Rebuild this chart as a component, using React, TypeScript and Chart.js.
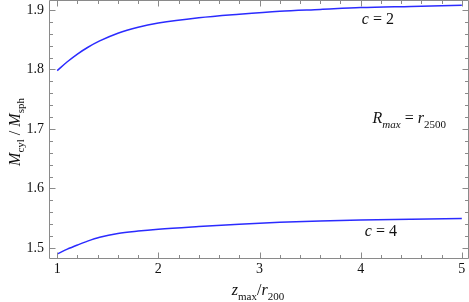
import React, { useEffect, useRef, useState } from "react";
import { Chart, registerables } from "chart.js";

Chart.register(...registerables);

const xValues = [1, 1.1, 1.2, 1.3, 1.42, 1.6, 1.8, 2, 2.4, 2.8, 3.2, 3.6, 4, 4.5, 5];
const seriesC2 = [1.798, 1.813, 1.826, 1.837, 1.848, 1.861, 1.871, 1.878, 1.887, 1.893, 1.898, 1.901, 1.904, 1.906, 1.908];
const seriesC4 = [1.490, 1.498, 1.505, 1.5115, 1.518, 1.5245, 1.5285, 1.5315, 1.536, 1.540, 1.5432, 1.5455, 1.5472, 1.5485, 1.5494];
const xTickLabels = [1, 2, 3, 4, 5];
const yTickLabels = [1.5, 1.6, 1.7, 1.8, 1.9];
const xMinorStep = 0.2;
const yMinorStep = 0.02;

const SERIF = '"Liberation Serif", "Times New Roman", serif';
const BLUE = "#2b2bff";
const FRAME = "#8a8a8a";
const INK = "#111";

const framePlugin = {
  id: "framePlugin",
  afterDraw(chart: any) {
    const { ctx, chartArea } = chart;
    const xs = chart.scales.x;
    const ys = chart.scales.y;
    const { left, right, top, bottom } = chartArea;
    ctx.save();
    ctx.strokeStyle = FRAME;
    ctx.lineWidth = 1;
    ctx.beginPath();
    ctx.rect(left + 0.5, top + 0.5, right - left - 1, bottom - top - 1);
    ctx.stroke();
    const eps = 1e-6;
    ctx.beginPath();
    for (let v = xTickLabels[0]; v <= xs.max + eps; v += xMinorStep) {
      const vv = Math.round(v * 1000) / 1000;
      if (vv < xs.min) continue;
      const major = Math.abs(vv - Math.round(vv)) < eps;
      const len = major ? 6 : 3.5;
      const px = Math.round(xs.getPixelForValue(vv)) + 0.5;
      ctx.moveTo(px, bottom - 0.5);
      ctx.lineTo(px, bottom - 0.5 - len);
      ctx.moveTo(px, top + 0.5);
      ctx.lineTo(px, top + 0.5 + len);
    }
    for (let v = 1.48; v <= ys.max + eps; v += yMinorStep) {
      const vv = Math.round(v * 1000) / 1000;
      if (vv < ys.min) continue;
      const major = Math.abs(vv * 10 - Math.round(vv * 10)) < 1e-4;
      const len = major ? 6 : 3.5;
      const py = Math.round(ys.getPixelForValue(vv)) + 0.5;
      ctx.moveTo(left + 0.5, py);
      ctx.lineTo(left + 0.5 + len, py);
      ctx.moveTo(right - 0.5, py);
      ctx.lineTo(right - 0.5 - len, py);
    }
    ctx.stroke();
    ctx.restore();
  },
};

type Layout = {
  xTicks: { x: number; label: string }[];
  yTicks: { y: number; label: string }[];
  left: number;
  right: number;
  top: number;
  bottom: number;
  c2: { x: number; y: number };
  rmax: { x: number; y: number };
  c4: { x: number; y: number };
};

const ASC = 0.8375;

function Txt(props: { x: number; baseline: number; size: number; align: "center" | "right"; children: any }) {
  const { x, baseline, size, align, children } = props;
  return (
    <div
      style={{
        position: "absolute",
        left: x,
        top: baseline - ASC * size,
        transform: align === "center" ? "translateX(-50%)" : "translateX(-100%)",
        fontFamily: SERIF,
        fontSize: size,
        lineHeight: `${size}px`,
        whiteSpace: "pre",
        color: INK,
        pointerEvents: "none",
      }}
    >
      {children}
    </div>
  );
}

const I = (p: { children: any }) => <span style={{ fontStyle: "italic" }}>{p.children}</span>;
const Sub = (p: { children: any; italic?: boolean }) => (
  <span style={{ fontSize: 11, verticalAlign: "-4.5px", lineHeight: 0, fontStyle: p.italic ? "italic" : "normal" }}>
    {p.children}
  </span>
);

export default function App() {
  const ref = useRef<HTMLCanvasElement | null>(null);
  const [lay, setLay] = useState<Layout | null>(null);
  useEffect(() => {
    document.body.style.margin = "0";
    if (!ref.current) return;
    const chart: any = new Chart(ref.current, {
      type: "line",
      data: {
        datasets: [
          {
            label: "c = 2",
            data: xValues.map((x, i) => ({ x, y: seriesC2[i] })),
            borderColor: BLUE,
            borderWidth: 1.5,
            pointRadius: 0,
            cubicInterpolationMode: "monotone",
            fill: false,
          },
          {
            label: "c = 4",
            data: xValues.map((x, i) => ({ x, y: seriesC4[i] })),
            borderColor: BLUE,
            borderWidth: 1.5,
            pointRadius: 0,
            cubicInterpolationMode: "monotone",
            fill: false,
          },
        ],
      },
      options: {
        animation: false,
        responsive: false,
        maintainAspectRatio: false,
        layout: { padding: 0 },
        plugins: { legend: { display: false }, tooltip: { enabled: false } },
        scales: {
          x: {
            type: "linear",
            min: 0.919,
            max: 5.071,
            grid: { display: false, drawTicks: false },
            border: { display: false },
            afterBuildTicks: (s: any) => {
              s.ticks = xTickLabels.map((v) => ({ value: v }));
            },
            afterFit: (s: any) => {
              s.height = 43;
              s.paddingLeft = 0;
              s.paddingRight = 0;
            },
            ticks: { display: false, autoSkip: false, callback: (v: any) => String(v) },
          },
          y: {
            type: "linear",
            min: 1.4815,
            max: 1.9168,
            grid: { display: false, drawTicks: false },
            border: { display: false },
            afterBuildTicks: (s: any) => {
              s.ticks = yTickLabels.map((v) => ({ value: v }));
            },
            afterFit: (s: any) => {
              s.width = 49;
              s.paddingTop = 0;
              s.paddingBottom = 0;
            },
            ticks: { display: false, autoSkip: false, callback: (v: any) => Number(v).toFixed(1) },
          },
        },
      },
      plugins: [framePlugin],
    } as any);
    const xs = chart.scales.x;
    const ys = chart.scales.y;
    const ca = chart.chartArea;
    setLay({
      xTicks: xs.ticks.map((t: any) => ({ x: xs.getPixelForValue(t.value), label: t.label != null ? String(t.label) : String(t.value) })),
      yTicks: ys.ticks.map((t: any) => ({
        y: ys.getPixelForValue(t.value),
        label: t.label != null ? String(t.label) : Number(t.value).toFixed(1),
      })),
      left: ca.left,
      right: ca.right,
      top: ca.top,
      bottom: ca.bottom,
      c2: { x: xs.getPixelForValue(4.17), y: ys.getPixelForValue(1.875) },
      rmax: { x: xs.getPixelForValue(4.48), y: ys.getPixelForValue(1.71) },
      c4: { x: xs.getPixelForValue(4.2), y: ys.getPixelForValue(1.5197) },
    });
    return () => chart.destroy();
  }, []);
  return (
    <div style={{ width: 469, height: 302, position: "relative", overflow: "hidden" }}>
      <canvas ref={ref} width={469} height={302} style={{ display: "block" }} />
      {lay && (
        <>
          {lay.xTicks.map((t) => (
            <Txt key={"x" + t.label} x={t.x} baseline={lay.bottom + 14.5} size={14} align="center">
              {t.label}
            </Txt>
          ))}
          {lay.yTicks.map((t) => (
            <Txt key={"y" + t.label} x={lay.left - 5} baseline={t.y + 4.5} size={14} align="right">
              {t.label}
            </Txt>
          ))}
          <Txt x={(lay.left + lay.right) / 2 - 1} baseline={295} size={16} align="center">
            <I>z</I>
            <Sub>max</Sub>/<I>r</I>
            <Sub>200</Sub>
          </Txt>
          <div
            style={{
              position: "absolute",
              left: 20,
              top: (lay.top + lay.bottom) / 2 + 2,
              transformOrigin: "0 0",
              transform: `rotate(-90deg) translate(-50%, ${-ASC * 16}px)`,
              fontFamily: SERIF,
              fontSize: 16,
              lineHeight: "16px",
              whiteSpace: "pre",
              color: INK,
              pointerEvents: "none",
            }}
          >
            <I>M</I>
            <Sub>cyl</Sub>
            {" / "}
            <I>M</I>
            <Sub>sph</Sub>
          </div>
          <Txt x={lay.c2.x} baseline={lay.c2.y} size={16} align="center">
            <I>c</I>
            {" = 2"}
          </Txt>
          <Txt x={lay.rmax.x} baseline={lay.rmax.y} size={16} align="center">
            <I>R</I>
            <Sub italic>max</Sub>
            {" = "}
            <I>r</I>
            <Sub>2500</Sub>
          </Txt>
          <Txt x={lay.c4.x} baseline={lay.c4.y} size={16} align="center">
            <I>c</I>
            {" = 4"}
          </Txt>
        </>
      )}
    </div>
  );
}
